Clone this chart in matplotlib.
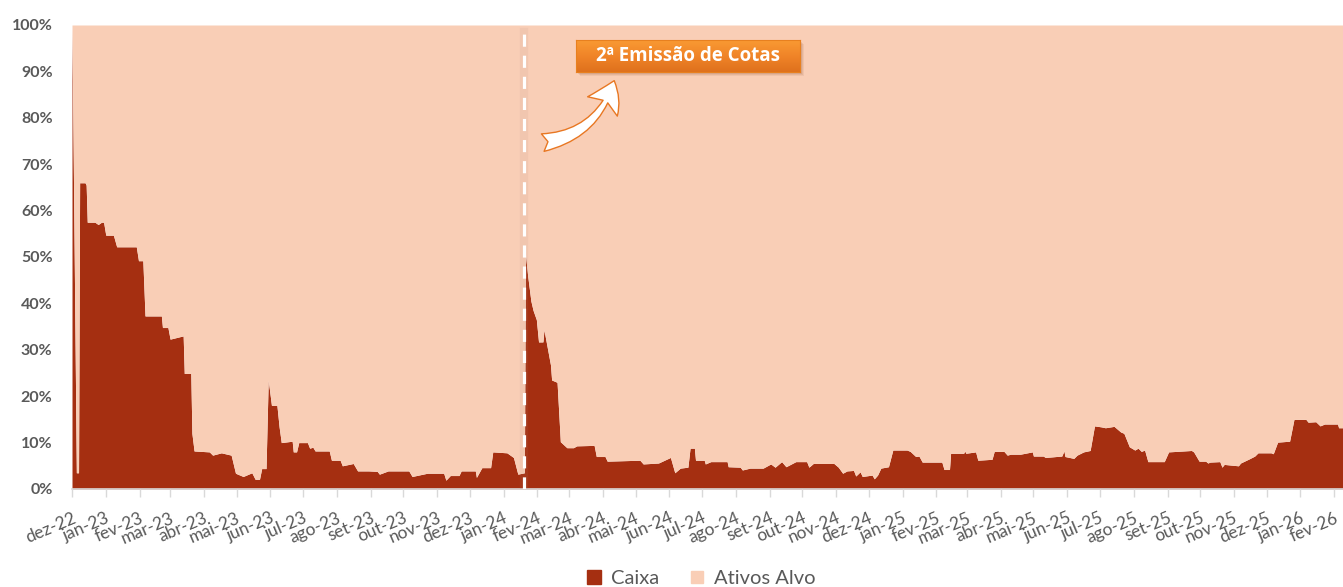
import matplotlib
matplotlib.use("Agg")
import matplotlib.pyplot as plt
import numpy as np
import pandas as pd
from matplotlib.patches import FancyArrowPatch, Rectangle
from matplotlib.lines import Line2D
from matplotlib.colors import LinearSegmentedColormap

# ---------------- data ----------------
dates = [
    "2022-12-01", "2022-12-05", "2022-12-07", "2022-12-08", "2022-12-13", "2022-12-14", "2022-12-15",
    "2022-12-22", "2022-12-25", "2022-12-28", "2022-12-30", "2023-01-01", "2023-01-08", "2023-01-11",
    "2023-01-29", "2023-01-31", "2023-02-04", "2023-02-06", "2023-02-21", "2023-02-22", "2023-02-27",
    "2023-03-01", "2023-03-13", "2023-03-14", "2023-03-20", "2023-03-21", "2023-03-23", "2023-04-06",
    "2023-04-09", "2023-04-17", "2023-04-26", "2023-04-30", "2023-05-07", "2023-05-15", "2023-05-18",
    "2023-05-22", "2023-05-24", "2023-05-28", "2023-05-30", "2023-06-02", "2023-06-07", "2023-06-09",
    "2023-06-11", "2023-06-21", "2023-06-22", "2023-06-25", "2023-06-27", "2023-07-05", "2023-07-07",
    "2023-07-10", "2023-07-12", "2023-07-25", "2023-07-27", "2023-08-04", "2023-08-06", "2023-08-16",
    "2023-08-20", "2023-08-30", "2023-09-07", "2023-09-09", "2023-09-17", "2023-10-06", "2023-10-09",
    "2023-10-23", "2023-11-07", "2023-11-09", "2023-11-13", "2023-11-21", "2023-11-23", "2023-12-06",
    "2023-12-07", "2023-12-12", "2023-12-20", "2023-12-22", "2024-01-04", "2024-01-10", "2024-01-14",
    "2024-01-20", "2024-01-21", "2024-01-23", "2024-01-26", "2024-01-28", "2024-01-31", "2024-02-02",
    "2024-02-06", "2024-02-07", "2024-02-13", "2024-02-14", "2024-02-19", "2024-02-22", "2024-02-28",
    "2024-03-05", "2024-03-08", "2024-03-24", "2024-03-26", "2024-04-03", "2024-04-05", "2024-05-05",
    "2024-05-08", "2024-05-22", "2024-06-02", "2024-06-06", "2024-06-11", "2024-06-18", "2024-06-20",
    "2024-06-24", "2024-06-25", "2024-07-03", "2024-07-04", "2024-07-09", "2024-07-24", "2024-07-25",
    "2024-08-05", "2024-08-07", "2024-08-14", "2024-08-26", "2024-09-02", "2024-09-06", "2024-09-12",
    "2024-09-16", "2024-09-25", "2024-10-05", "2024-10-07", "2024-10-11", "2024-10-30", "2024-11-03",
    "2024-11-07", "2024-11-11", "2024-11-17", "2024-11-19", "2024-11-23", "2024-11-25", "2024-12-04",
    "2024-12-06", "2024-12-09", "2024-12-12", "2024-12-19", "2024-12-23", "2025-01-05", "2025-01-08",
    "2025-01-13", "2025-01-16", "2025-01-19", "2025-02-06", "2025-02-08", "2025-02-13", "2025-02-14",
    "2025-02-26", "2025-02-27", "2025-02-28", "2025-03-09", "2025-03-11", "2025-03-24", "2025-03-26",
    "2025-04-04", "2025-04-07", "2025-04-10", "2025-04-19", "2025-04-30", "2025-05-01", "2025-05-10",
    "2025-05-12", "2025-05-27", "2025-05-29", "2025-05-30", "2025-06-07", "2025-06-10", "2025-06-16",
    "2025-06-22", "2025-06-26", "2025-07-02", "2025-07-06", "2025-07-14", "2025-07-20", "2025-07-23",
    "2025-07-28", "2025-08-02", "2025-08-05", "2025-08-08", "2025-08-11", "2025-08-14", "2025-08-29",
    "2025-09-02", "2025-09-23", "2025-09-25", "2025-09-30", "2025-10-06", "2025-10-08", "2025-10-10",
    "2025-10-19", "2025-10-21", "2025-10-23", "2025-11-05", "2025-11-07", "2025-11-15", "2025-11-20",
    "2025-11-23", "2025-12-05", "2025-12-07", "2025-12-11", "2025-12-22", "2025-12-26", "2026-01-06",
    "2026-01-08", "2026-01-15", "2026-01-19", "2026-01-23", "2026-02-04", "2026-02-05", "2026-02-09",
]
caixa = [
    99.0, 3.5, 3.5, 66.0, 66.0, 65.5, 57.5,
    57.5, 57.0, 57.5, 57.5, 54.7, 54.7, 52.2,
    52.2, 49.2, 49.2, 37.3, 37.3, 34.8, 34.8,
    32.3, 33.0, 24.9, 24.9, 12.0, 8.2, 8.0,
    7.3, 7.8, 7.3, 3.4, 2.7, 3.5, 2.1,
    2.1, 4.4, 4.4, 23.5, 18.0, 18.0, 13.4,
    10.0, 10.3, 8.0, 8.0, 10.0, 10.0, 8.8,
    9.0, 8.2, 8.2, 6.2, 6.2, 5.0, 5.5,
    3.9, 3.9, 3.8, 3.2, 3.9, 3.9, 2.7,
    3.4, 3.4, 1.9, 2.9, 2.9, 3.9, 3.9,
    2.5, 4.6, 4.6, 8.0, 7.8, 6.8, 3.2,
    3.5, 50.6, 46.0, 40.5, 38.5, 36.5, 31.7,
    31.7, 34.3, 26.7, 23.5, 23.0, 10.2, 8.9,
    8.9, 9.3, 9.4, 7.0, 7.0, 6.0, 6.2,
    5.4, 5.6, 6.8, 3.5, 4.5, 4.7, 8.8,
    8.8, 6.2, 6.2, 5.4, 5.9, 5.9, 4.8,
    4.7, 4.1, 4.5, 4.5, 5.4, 4.7, 5.9,
    4.8, 5.9, 5.9, 4.7, 5.5, 5.5, 4.7,
    3.4, 3.9, 4.0, 2.8, 3.7, 2.7, 3.0,
    2.2, 3.0, 4.5, 4.8, 8.4, 8.4, 8.1,
    7.0, 7.1, 5.8, 5.8, 4.2, 4.2, 7.7,
    7.7, 8.2, 7.7, 8.0, 6.2, 6.4, 8.1,
    8.1, 7.3, 7.5, 7.5, 8.0, 7.1, 7.1,
    6.8, 7.1, 8.2, 7.0, 6.6, 7.3, 8.0,
    8.3, 13.6, 13.4, 13.2, 13.5, 12.3, 12.0,
    9.1, 8.4, 8.8, 8.1, 8.4, 5.9, 5.9,
    8.0, 8.3, 8.0, 6.0, 6.0, 5.6, 5.8,
    5.9, 4.7, 5.3, 5.0, 5.6, 6.5, 7.1,
    7.8, 7.8, 7.6, 10.1, 10.3, 15.0, 15.0,
    14.4, 14.5, 13.6, 14.0, 14.0, 13.2, 13.2,
]
series_names = ["Caixa", "Ativos Alvo"]
tick_labels = [
    "dez-22", "jan-23", "fev-23", "mar-23", "abr-23", "mai-23", "jun-23", "jul-23", "ago-23",
    "set-23", "out-23", "nov-23", "dez-23", "jan-24", "fev-24", "mar-24", "abr-24", "mai-24",
    "jun-24", "jul-24", "ago-24", "set-24", "out-24", "nov-24", "dez-24", "jan-25", "fev-25",
    "mar-25", "abr-25", "mai-25", "jun-25", "jul-25", "ago-25", "set-25", "out-25", "nov-25",
    "dez-25", "jan-26", "fev-26",
]
emission_date = "2024-01-20"
emission_label = "2ª Emissão de Cotas"
y_ticks = [0, 10, 20, 30, 40, 50, 60, 70, 80, 90, 100]

# ---------------- figure ----------------
COL_CAIXA = "#A52F11"
COL_ATIVOS = "#F9CEB6"
TXT = "#595959"
FONT = "Lato"

W, H = 1343, 587
fig = plt.figure(figsize=(W / 100, H / 100), dpi=100)
ax = fig.add_axes([72 / W, 1 - 489 / H, 1 - 72 / W, (489 - 25) / H])

x = pd.to_datetime(dates)
c = np.array(caixa)
a = 100 - c
ax.fill_between(x, 0, c, color=COL_CAIXA, linewidth=0)
ax.fill_between(x, c, c + a, color=COL_ATIVOS, linewidth=0)

ax.set_xlim(x[0], x[-1])
ax.set_ylim(0, 100)

ticks = pd.date_range("2022-12-01", periods=len(tick_labels), freq="MS")
ax.set_xticks(ticks)
ax.set_xticklabels(tick_labels, rotation=23, ha="right", rotation_mode="anchor",
                   fontsize=12.5, color=TXT, family=FONT)
ax.tick_params(axis="x", length=6, width=1, color="#D9D9D9", pad=9)
ax.set_yticks(y_ticks)
ax.set_yticklabels([f"{v}%" for v in y_ticks], fontsize=11.5, fontweight="bold",
                   color=TXT, family=FONT)
ax.tick_params(axis="y", length=0, pad=14)
for s in ["top", "right", "left"]:
    ax.spines[s].set_visible(False)
ax.spines["bottom"].set_color("#D9D9D9")
ax.spines["bottom"].set_linewidth(1.2)

# emission marker
ed = pd.Timestamp(emission_date)
ax.axvline(ed, ymin=0, ymax=0.985, color="#B08878", alpha=0.10, linewidth=6, zorder=3)
ax.axvline(ed, ymin=0, ymax=0.985, color="white", linewidth=2.3,
           linestyle=(0, (3.8, 2.8)), zorder=4)

# annotation box (figure pixel coords)
def fx(px):
    return px / W

def fy(py):
    return 1 - py / H

for off, al in [(4, 0.10), (3, 0.12), (2, 0.15)]:
    fig.patches.append(Rectangle((fx(576 + off), fy(72 + off)), fx(800) - fx(576), fy(40) - fy(72),
                                 transform=fig.transFigure, facecolor="#9A5A3A", alpha=al,
                                 edgecolor="none", zorder=5))
bax = fig.add_axes([fx(576), fy(72), fx(800) - fx(576), fy(40) - fy(72)], zorder=6)
grad = np.linspace(0, 1, 64).reshape(-1, 1)
cmap = LinearSegmentedColormap.from_list("btn", ["#F99A33", "#F08428", "#DF711D"])
bax.imshow(grad, aspect="auto", cmap=cmap, extent=(0, 1, 0, 1), origin="upper")
bax.set_xlim(0, 1)
bax.set_ylim(0, 1)
bax.set_xticks([])
bax.set_yticks([])
for s in bax.spines.values():
    s.set_color("#E8801F")
    s.set_linewidth(0.8)
bax.text(0.5, 0.5, emission_label, ha="center", va="center", color="white",
         fontsize=13.5, fontweight="bold", family="Open Sans", transform=bax.transAxes)

arrow = FancyArrowPatch((fx(540), fy(143)), (fx(615), fy(78)), transform=fig.transFigure,
                        connectionstyle="arc3,rad=0.33",
                        arrowstyle="fancy,head_length=1.2,head_width=1.5,tail_width=0.75",
                        mutation_scale=17, facecolor="white", edgecolor="#E87722",
                        linewidth=1.0, zorder=6)
fig.patches.append(arrow)

# legend
handles = [Line2D([], [], marker="s", linestyle="none", markersize=10,
                  markerfacecolor=COL_CAIXA, markeredgecolor=COL_CAIXA),
           Line2D([], [], marker="s", linestyle="none", markersize=9,
                  markerfacecolor=COL_ATIVOS, markeredgecolor=COL_ATIVOS)]
leg = fig.legend(handles, series_names, loc="center", bbox_to_anchor=(0.522, 0.014), ncol=2,
                 frameon=False, handlelength=0.7, handletextpad=0.5, columnspacing=1.5,
                 prop={"family": FONT, "size": 14.5})
for t in leg.get_texts():
    t.set_color(TXT)

fig.savefig("out.png", dpi=100)
